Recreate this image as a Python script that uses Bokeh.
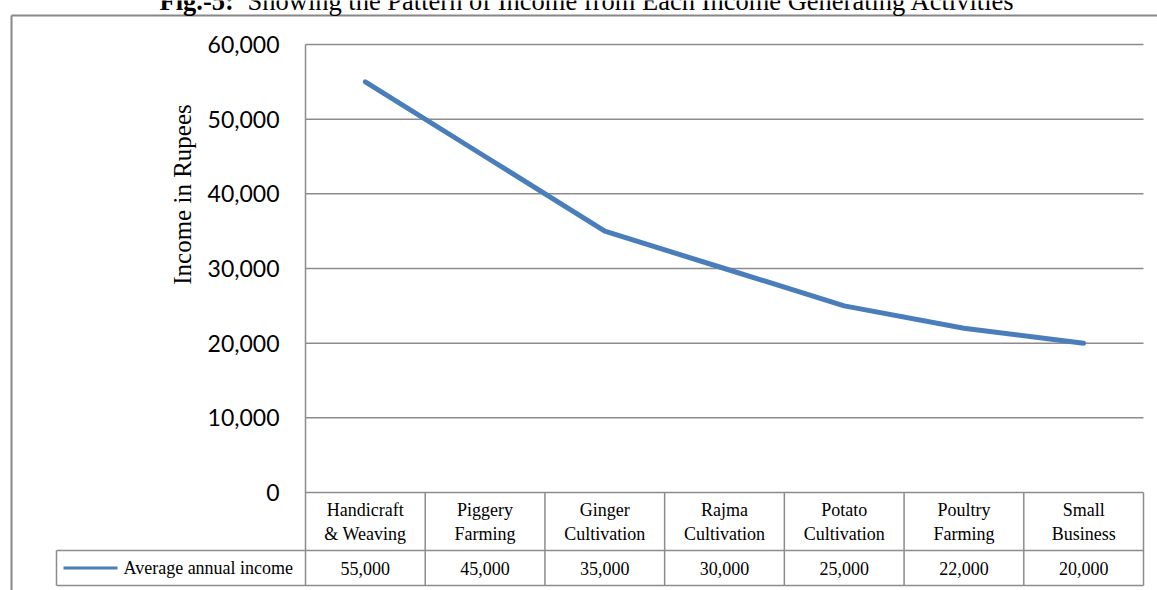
import math
from bokeh.plotting import figure
from bokeh.models import Range1d, ColumnDataSource
from bokeh.core.properties import value
from bokeh.embed import file_html
from bokeh.resources import INLINE

# ---------------- data ----------------
categories = ["Handicraft\n& Weaving", "Piggery\nFarming", "Ginger\nCultivation",
              "Rajma\nCultivation", "Potato\nCultivation", "Poultry\nFarming",
              "Small\nBusiness"]
income = [55000, 45000, 35000, 30000, 25000, 22000, 20000]
series_name = "Average annual income"
y_ticks = [0, 10000, 20000, 30000, 40000, 50000, 60000]
y_title = "Income in Rupees"
title_bold = "Fig.-5:"
title_rest = "Showing the Pattern of Income from Each Income Generating Activities"

# ---------------- layout helpers (pixel -> data) ----------------
W, H = 1157, 590
PLOT_L, PLOT_R = 305, 1143          # plot area left/right in px
PLOT_T, PLOT_B = 44, 492            # y of 60,000 and 0
n = len(categories)
XS = (PLOT_R - PLOT_L) / n          # px per category
YS = (PLOT_B - PLOT_T) / (y_ticks[-1] - y_ticks[0])

def X(px):
    return -0.5 + (px - PLOT_L) / XS

def Y(py):
    return (PLOT_B - py) / YS

ROW1_B = 550     # bottom of category row
ROW2_B = 585     # bottom of value row
LEG_L = 56       # legend cell left

GRID = "#8c8c8c"
BLUE = "#4A7EBB"
SERIF = value("Liberation Serif")

p = figure(width=W, height=H, x_axis_type=None, y_axis_type=None,
           x_range=Range1d(X(0), X(W)), y_range=Range1d(Y(H), Y(0)),
           min_border=0, toolbar_location=None, output_backend="svg",
           title=None)
p.outline_line_color = None
p.background_fill_color = "white"
p.border_fill_color = "white"

idx = list(range(n))

# outer chart border (left + top)
p.segment(x0=[X(11), X(11)], y0=[Y(15), Y(15)], x1=[X(11), X(W + 5)], y1=[Y(H + 5), Y(15)],
          line_color="#888888", line_width=2)

# gridlines
p.segment(x0=[X(PLOT_L)] * len(y_ticks), y0=y_ticks,
          x1=[X(PLOT_R)] * len(y_ticks), y1=y_ticks,
          line_color=GRID, line_width=1.5)

# vertical axis line extending through table
p.segment(x0=[X(PLOT_L)], y0=[Y(ROW2_B)], x1=[X(PLOT_L)], y1=[y_ticks[-1]],
          line_color=GRID, line_width=1.5)

# table vertical borders
p.segment(x0=[i + 0.5 for i in idx], y0=[Y(ROW2_B)] * n,
          x1=[i + 0.5 for i in idx], y1=[0] * n, line_color=GRID, line_width=1.5)
# table horizontal borders
p.segment(x0=[X(LEG_L), X(LEG_L)], y0=[Y(ROW1_B), Y(ROW2_B)],
          x1=[X(PLOT_R), X(PLOT_R)], y1=[Y(ROW1_B), Y(ROW2_B)],
          line_color=GRID, line_width=1.5)
# legend cell left border
p.segment(x0=[X(LEG_L)], y0=[Y(ROW1_B)], x1=[X(LEG_L)], y1=[Y(ROW2_B)],
          line_color=GRID, line_width=1.5)

# data line
p.line(x=idx, y=income, line_color=BLUE, line_width=5,
       line_cap="round", line_join="round")

# y tick labels
tick_src = ColumnDataSource(dict(x=[X(PLOT_L)] * len(y_ticks), y=y_ticks,
                                 t=[f"{v:,}" for v in y_ticks]))
p.text(x="x", y="y", text="t", source=tick_src, x_offset=-26,
       text_align="right", text_baseline="middle",
       text_font=value("Lato"), text_font_size="23px", text_color="#000000")

# y axis title
p.text(x=[X(182)], y=[Y(194)], text=[y_title], angle=math.pi / 2,
       text_align="center", text_baseline="middle",
       text_font=SERIF, text_font_size="25px", text_color="#000000")

# category labels
p.text(x=idx, y=[Y((PLOT_B + ROW1_B) / 2)] * n, text=categories,
       text_align="center", text_baseline="middle", text_line_height=1.2,
       text_font=SERIF, text_font_size="18px", text_color="#000000")

# value row
p.text(x=idx, y=[Y((ROW1_B + ROW2_B) / 2)] * n, text=[f"{v:,}" for v in income],
       text_align="center", text_baseline="middle",
       text_font=SERIF, text_font_size="18px", text_color="#000000")

# legend key in table
ly = Y((ROW1_B + ROW2_B) / 2)
p.line(x=[X(63), X(117)], y=[ly, ly], line_color=BLUE, line_width=3)
p.text(x=[X(123)], y=[ly], text=[series_name], text_align="left",
       text_baseline="middle", text_font=SERIF, text_font_size="18px",
       text_color="#000000")

# title (partly above the top edge, as in the original)
p.text(x=[X(159)], y=[Y(0)], text=[title_bold], text_align="left",
       text_baseline="alphabetic", text_font=SERIF, text_font_style="bold",
       text_font_size="26.5px", text_color="#000000")
p.text(x=[X(247)], y=[Y(0)], text=[title_rest], text_align="left",
       text_baseline="alphabetic", text_font=SERIF,
       text_font_size="26.5px", text_color="#000000")

open("out.html", "w").write(file_html(p, INLINE))
